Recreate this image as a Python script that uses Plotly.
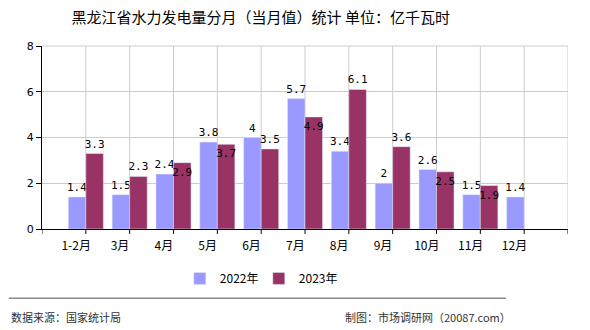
import plotly.graph_objects as go

categories = ["1-2月", "3月", "4月", "5月", "6月", "7月", "8月", "9月", "10月", "11月", "12月"]
values_2022 = [1.4, 1.5, 2.4, 3.8, 4, 5.7, 3.4, 2, 2.6, 1.5, 1.4]
values_2023 = [3.3, 2.3, 2.9, 3.7, 3.5, 4.9, 6.1, 3.6, 2.5, 1.9, None]
pos_2023 = ["outside", "outside", "inside", "inside", "outside", "inside", "outside", "outside", "inside", "inside", "outside"]
y_ticks = [0, 2, 4, 6, 8]

idx = list(range(len(categories)))
bounds = list(range(-1, len(categories) + 1))
lab_font = dict(family="DejaVu Sans Mono", size=11, color="#000")
GRID = "#cccccc"

fig = go.Figure()
fig.add_trace(go.Bar(
    x=idx, y=values_2022, name="2022年", marker_color="#9999FF",
    text=[str(v) for v in values_2022], textposition="outside", textangle=0,
    textfont=lab_font, insidetextfont=lab_font, outsidetextfont=lab_font,
    insidetextanchor="end", cliponaxis=False,
))
fig.add_trace(go.Bar(
    x=idx, y=values_2023, name="2023年", marker_color="#993366",
    text=["" if v is None else str(v) for v in values_2023], textposition=pos_2023,
    textangle=0, textfont=lab_font, insidetextfont=lab_font, outsidetextfont=lab_font,
    insidetextanchor="end", cliponaxis=False,
))

fig.update_layout(
    width=590, height=330,
    margin=dict(l=42, r=22, t=46, b=101),
    plot_bgcolor="white", paper_bgcolor="white",
    barmode="group", bargap=0.2, bargroupgap=0,
    uniformtext=dict(minsize=11, mode="show"),
    title=dict(text="黑龙江省水力发电量分月（当月值）统计 单位：亿千瓦时",
               x=0.442, xanchor="center", y=0.945, yanchor="middle",
               font=dict(family="Noto Sans CJK SC", size=15, color="#000")),
    font=dict(family="Noto Sans CJK SC", size=12, color="#000"),
    showlegend=True,
    legend=dict(orientation="h", x=0.262, xanchor="left", y=-0.27, yanchor="middle",
                font=dict(family="Noto Sans CJK SC", size=12, color="#000"),
                itemwidth=30, entrywidth=34, entrywidthmode="pixels",
                traceorder="normal"),
    xaxis=dict(
        range=[-1, 11], tickmode="array", tickvals=[i - 0.22 for i in idx], ticktext=categories,
        ticks="", showgrid=False, zeroline=False,
        showline=True, linecolor="#000", linewidth=1, ticklabelstandoff=6,
        tickfont=dict(family="Noto Sans CJK SC", size=12, color="#000"),
    ),
    yaxis=dict(
        range=[0, 8], tickmode="array", tickvals=y_ticks,
        showgrid=True, gridcolor=GRID, gridwidth=1,
        zeroline=False, showline=True, linecolor="#000", linewidth=1,
        ticks="outside", ticklen=5, tickcolor="#000",
        tickfont=dict(family="DejaVu Sans", size=11, color="#000"),
    ),
)

# vertical grid lines and tick marks at category boundaries
for b in bounds[1:]:
    fig.add_shape(type="line", xref="x", yref="paper", x0=b, x1=b, y0=0, y1=1,
                  line=dict(color=GRID, width=1), layer="below")
for b in bounds:
    fig.add_shape(type="line", xref="x", yref="y domain", x0=b, x1=b, y0=0, y1=-0.027,
                  line=dict(color="#000", width=1))
fig.add_shape(type="line", xref="paper", yref="paper", x0=0, x1=1, y0=1, y1=1,
              line=dict(color=GRID, width=1), layer="below")
fig.add_shape(type="line", xref="paper", yref="paper", x0=-0.063, x1=0.882,
              y0=-0.379, y1=-0.379, line=dict(color="#888", width=1.5))

fig.add_annotation(text="数据来源：国家统计局", xref="paper", yref="paper",
                   x=-0.063, xanchor="left", y=-0.48, yanchor="middle", showarrow=False,
                   font=dict(family="Noto Sans CJK SC", size=11, color="#333"))
fig.add_annotation(text="制图：市场调研网（20087.com）", xref="paper", yref="paper",
                   x=0.896, xanchor="right", y=-0.48, yanchor="middle", showarrow=False,
                   font=dict(family="Noto Sans CJK SC", size=11, color="#333"))

fig.write_html("out.html")
